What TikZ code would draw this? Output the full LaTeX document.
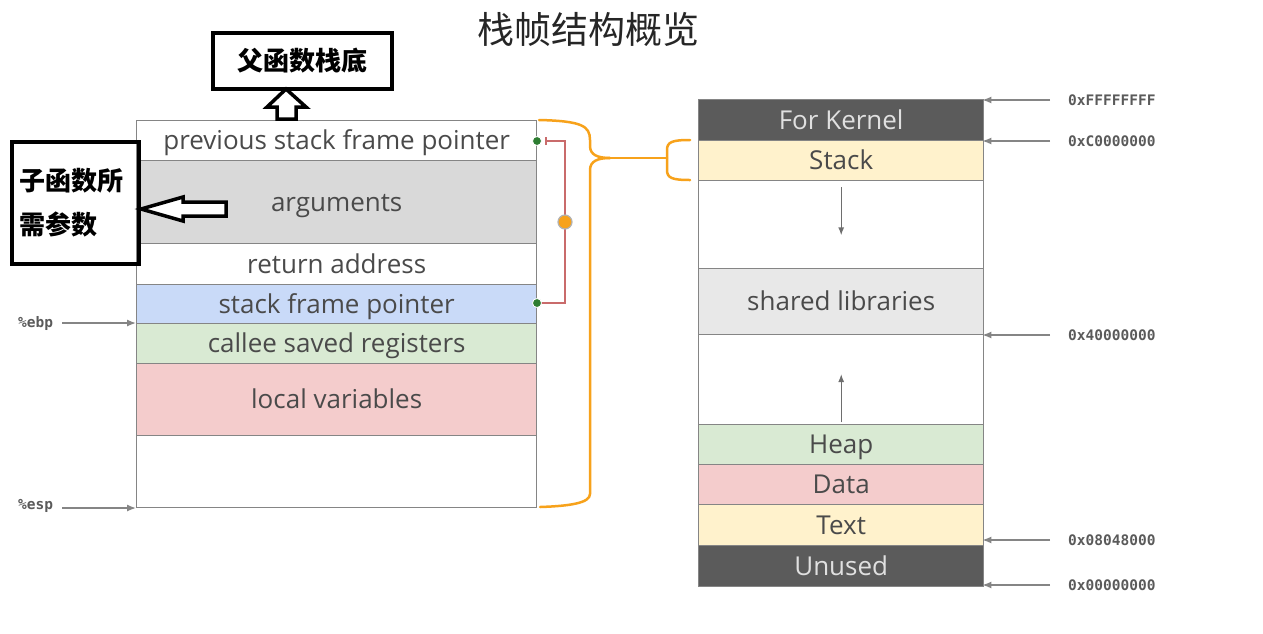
\documentclass[tikz,border=0pt]{standalone}
\usepackage{fontspec}
\setmainfont{Open Sans}
\newfontfamily\cjk{Noto Sans CJK SC}
\newfontfamily\mono{DejaVu Sans Mono}
\usetikzlibrary{arrows.meta,calc}
\definecolor{linegray}{HTML}{858585}
\definecolor{txtgray}{HTML}{4A4A4A}
\definecolor{argsgray}{HTML}{D9D9D9}
\definecolor{sfpblue}{HTML}{C9DAF8}
\definecolor{csrgreen}{HTML}{D9EAD3}
\definecolor{lvpink}{HTML}{F4CCCC}
\definecolor{stkyellow}{HTML}{FFF2CC}
\definecolor{darkrow}{HTML}{5B5B5B}
\definecolor{shlgray}{HTML}{E8E8E8}
\definecolor{braceorange}{HTML}{F7A21B}
\definecolor{bracketred}{HTML}{C96B6B}
\definecolor{dotgreen}{HTML}{2E7D32}
\definecolor{addrgray}{HTML}{5A5A5A}
\tikzset{
  row/.style={rectangle, draw=linegray, line width=1.4pt, minimum width=400pt,
    inner sep=0pt, anchor=north west, text=txtgray, text height=18pt, text depth=0pt,
    font=\fontsize{26}{30}\selectfont},
  mrow/.style={row, minimum width=285pt},
  cnbox/.style={rectangle, draw=black, line width=3.5pt, inner sep=0pt, anchor=north west,
    font=\cjk\bfseries\fontsize{26}{44}\selectfont},
  hollow/.style={draw=black, line width=3.5pt, fill=white, line join=miter},
  addrlbl/.style={anchor=west, inner sep=0pt, text=addrgray, font=\mono\bfseries\fontsize{14.5}{16}\selectfont},
  addr/.style={draw=linegray, line width=1.3pt, -{Latex[length=9pt,width=7pt]}},
  smallarr/.style={draw=txtgray!80, line width=1.3pt, -{Latex[length=8pt,width=6pt]}},
  brace/.style={draw=braceorange, line width=2.5pt, line cap=round},
}
\begin{document}
\begin{tikzpicture}[x=1pt,y=-1pt]
\useasboundingbox (0,0) rectangle (1263,633);

% title
\node[font=\cjk\fontsize{37}{40}\selectfont, text=black!85] (title) at (588,29) {栈帧结构概览};

% left stack frame
\node[row, minimum height=40pt] (pf) at (136,120) {previous stack frame pointer};
\node[row, minimum height=83pt, fill=argsgray] (args) at (136,160) {arguments};
\node[row, minimum height=41pt] (ret) at (136,243) {return address};
\node[row, minimum height=39pt, fill=sfpblue] (sfp) at (136,284) {stack frame pointer};
\node[row, minimum height=40pt, fill=csrgreen] (csr) at (136,323) {callee saved registers};
\node[row, minimum height=72pt, fill=lvpink] (lv) at (136,363) {local variables};
\node[row, minimum height=72pt] (emp) at (136,435) {};

% ebp / esp
\node[addrlbl] (ebp) at (18,323) {\%ebp};
\node[addrlbl] (esp) at (18,506) {\%esp};
\draw[addr, shorten <=9pt] (ebp.east) -- (ebp.east -| sfp.west);
\draw[addr, shorten <=9pt] ([yshift=-2pt]esp.east) -- ([yshift=-2pt]esp.east -| emp.west);

% right memory map
\node[mrow, minimum height=41pt, fill=darkrow, text=white!88!black] (kern) at (698,99) {For Kernel};
\node[mrow, minimum height=40pt, fill=stkyellow] (stk) at (698,140) {Stack};
\node[mrow, minimum height=88pt] (gap1) at (698,180) {};
\node[mrow, minimum height=66pt, fill=shlgray] (shl) at (698,268) {shared libraries};
\node[mrow, minimum height=90pt] (gap2) at (698,334) {};
\node[mrow, minimum height=40pt, fill=csrgreen] (heap) at (698,424) {Heap};
\node[mrow, minimum height=40pt, fill=lvpink] (data) at (698,464) {Data};
\node[mrow, minimum height=41pt, fill=stkyellow] (text) at (698,504) {Text};
\node[mrow, minimum height=41pt, fill=darkrow, text=white!88!black] (unused) at (698,545) {Unused};

\draw[smallarr] ([yshift=-7pt]gap1.north) -- ([yshift=34pt]gap1.south);
\draw[smallarr] ([yshift=3pt]gap2.south) -- ([yshift=-40pt]gap2.north);

% addresses
\node[addrlbl] (a1) at (1068,100) {0xFFFFFFFF};
\node[addrlbl] (a2) at (1068,141) {0xC0000000};
\node[addrlbl] (a3) at (1068,335) {0x40000000};
\node[addrlbl] (a4) at (1068,540) {0x08048000};
\node[addrlbl] (a5) at (1068,585) {0x00000000};
\foreach \a in {a1,a2,a3,a4,a5}
  \draw[addr, shorten <=18pt, shorten >=-2pt] (\a.west) -- (\a.west -| kern.east);

% orange braces
\coordinate (btip) at (610,158);
\coordinate (rtip) at (667,158);
\draw[brace] (539,120) .. controls (582,121) and (590,126) .. (590,140) -- (590,146)
  .. controls (590,155) and (598,158) .. (btip);
\draw[brace] (btip) .. controls (598,158) and (590,161) .. (590,170) -- (590,494)
  .. controls (590,503) and (570,506) .. (540,507);
\draw[brace] (btip) -- (rtip);
\draw[brace] (690,140) .. controls (672,140) and (667,142) .. (667,150) -- (667,170)
  .. controls (667,178) and (672,180) .. (690,180);

% red bracket
\coordinate (rb1) at (545,141);
\coordinate (rb2) at (565,141);
\coordinate (rb3) at (565,303);
\coordinate (rb4) at (541,303);
\draw[bracketred, line width=1.5pt, {Bar[width=8pt]}-] (rb1) -- (rb2) -- (rb3) -- (rb4);
\node[circle, fill=braceorange, draw=gray!60, line width=1.2pt, minimum size=14pt, inner sep=0pt] (odot) at (565,222) {};
\node[circle, fill=dotgreen, draw=white, line width=0.8pt, minimum size=9pt, inner sep=0pt] (g1) at (537,141) {};
\node[circle, fill=dotgreen, draw=white, line width=0.8pt, minimum size=9pt, inner sep=0pt] (g2) at (537,303) {};

% chinese boxes
\node[cnbox, minimum width=179pt, minimum height=56pt] (parent) at (211,31) {父函数栈底};
\node[cnbox, minimum width=127pt, minimum height=122pt, text width=111pt, align=left] (child) at (10,140) {子函数所\\需参数};

% hollow arrows
\draw[hollow] (277,119) -- (277,107) -- (267,107) -- (286,89) -- (306,107) -- (296,107) -- (296,119) -- cycle;
\draw[hollow] (226,202) -- (183,202) -- (183,197) -- (141,209) -- (183,221) -- (183,216) -- (226,216) -- cycle;
\end{tikzpicture}
\end{document}
